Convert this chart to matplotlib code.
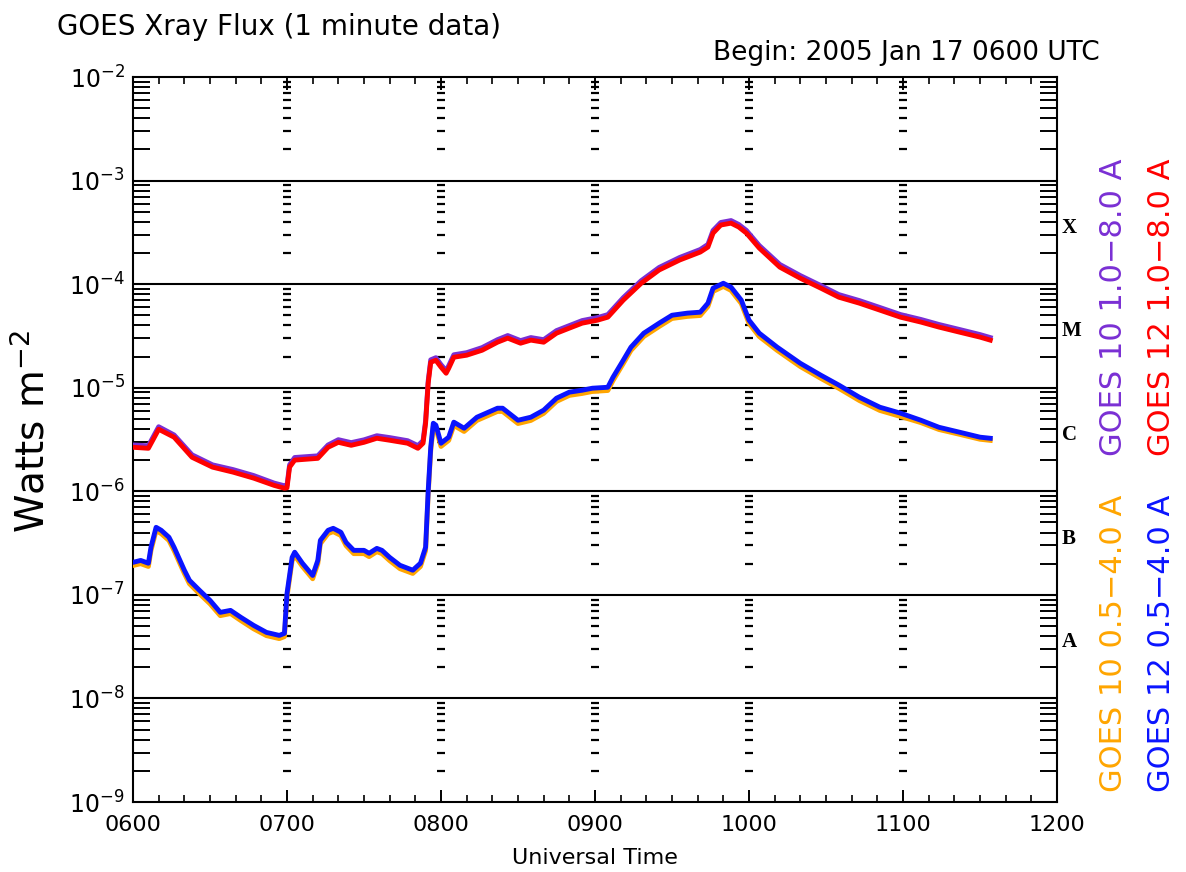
import numpy as np
import matplotlib
matplotlib.use("Agg")
import matplotlib.pyplot as plt
from matplotlib.ticker import FixedLocator, MultipleLocator, NullFormatter, LogFormatterMathtext

# minutes after 0600 UTC
t_long = [0, 6, 10, 16, 23, 31, 39, 47, 55, 59, 60, 61, 63, 72, 76, 80, 85, 90, 95, 100,
          107, 111, 113, 114, 115, 116, 118, 120, 122, 123, 125, 130, 136, 142, 146, 151,
          155, 160, 165, 170, 175, 181, 185, 191, 198, 205, 213, 221, 224, 226, 229, 233,
          236, 239, 244, 252, 260, 268, 275, 283, 291, 299, 307, 314, 322, 330, 334]
g12_long = [2.66e-6, 2.60e-6, 3.97e-6, 3.33e-6, 2.13e-6, 1.71e-6, 1.53e-6, 1.34e-6, 1.14e-6,
            1.07e-6, 1.08e-6, 1.71e-6, 2.00e-6, 2.08e-6, 2.66e-6, 2.97e-6, 2.78e-6, 2.97e-6,
            3.25e-6, 3.11e-6, 2.91e-6, 2.60e-6, 2.91e-6, 4.54e-6, 1.10e-5, 1.76e-5, 1.84e-5,
            1.58e-5, 1.38e-5, 1.54e-5, 1.97e-5, 2.06e-5, 2.30e-5, 2.75e-5, 3.01e-5, 2.69e-5,
            2.88e-5, 2.75e-5, 3.36e-5, 3.76e-5, 4.20e-5, 4.49e-5, 4.80e-5, 7.0e-5, 1.02e-4,
            1.37e-4, 1.71e-4, 2.04e-4, 2.28e-4, 3.11e-4, 3.72e-4, 3.88e-4, 3.56e-4, 3.11e-4,
            2.23e-4, 1.46e-4, 1.14e-4, 9.14e-5, 7.48e-5, 6.55e-5, 5.61e-5, 4.80e-5, 4.30e-5,
            3.85e-5, 3.44e-5, 3.08e-5, 2.88e-5]
g10_long = [2.80e-6, 2.75e-6, 4.2e-6, 3.5e-6, 2.25e-6, 1.80e-6, 1.62e-6, 1.42e-6, 1.20e-6,
            1.13e-6, 1.14e-6, 1.80e-6, 2.12e-6, 2.20e-6, 2.80e-6, 3.15e-6, 2.95e-6, 3.14e-6,
            3.44e-6, 3.30e-6, 3.08e-6, 2.76e-6, 3.08e-6, 4.8e-6, 1.16e-5, 1.86e-5, 1.95e-5,
            1.67e-5, 1.46e-5, 1.63e-5, 2.08e-5, 2.18e-5, 2.44e-5, 2.91e-5, 3.19e-5, 2.85e-5,
            3.05e-5, 2.91e-5, 3.56e-5, 3.98e-5, 4.45e-5, 4.76e-5, 5.08e-5, 7.4e-5, 1.08e-4,
            1.45e-4, 1.81e-4, 2.16e-4, 2.42e-4, 3.30e-4, 3.94e-4, 4.11e-4, 3.77e-4, 3.30e-4,
            2.36e-4, 1.55e-4, 1.21e-4, 9.69e-5, 7.93e-5, 6.94e-5, 5.95e-5, 5.09e-5, 4.56e-5,
            4.08e-5, 3.65e-5, 3.26e-5, 3.05e-5]

t_short = [0, 3, 6, 7, 9, 11, 14, 16, 20, 22, 26, 30, 34, 38, 42, 47, 52, 57, 59, 60, 62, 63,
           66, 70, 72, 73, 76, 78, 81, 83, 86, 90, 92, 95, 97, 100, 104, 109, 112, 114, 115,
           116, 117, 118, 120, 123, 125, 129, 134, 142, 144, 150, 155, 160, 165, 170, 175,
           179, 185, 187, 191, 194, 199, 205, 210, 216, 221, 224, 226, 230, 233, 237, 240,
           244, 251, 260, 268, 275, 283, 291, 299, 307, 314, 322, 330, 334]
g12_short = [2.06e-7, 2.15e-7, 2.02e-7, 2.88e-7, 4.49e-7, 4.20e-7, 3.60e-7, 2.88e-7, 1.73e-7,
             1.38e-7, 1.10e-7, 8.85e-8, 6.78e-8, 7.08e-8, 6.07e-8, 5.07e-8, 4.34e-8, 4.06e-8,
             4.25e-8, 1.03e-7, 2.30e-7, 2.58e-7, 2.02e-7, 1.54e-7, 2.15e-7, 3.36e-7, 4.20e-7,
             4.39e-7, 4.02e-7, 3.21e-7, 2.69e-7, 2.69e-7, 2.52e-7, 2.81e-7, 2.69e-7, 2.30e-7,
             1.93e-7, 1.73e-7, 2.02e-7, 2.88e-7, 1.0e-6, 2.66e-6, 4.54e-6, 4.35e-6, 2.91e-6,
             3.33e-6, 4.65e-6, 4.06e-6, 5.19e-6, 6.34e-6, 6.34e-6, 4.85e-6, 5.19e-6, 6.07e-6,
             7.92e-6, 9.06e-6, 9.46e-6, 9.89e-6, 1.01e-5, 1.26e-5, 1.84e-5, 2.46e-5, 3.36e-5,
             4.20e-5, 5.01e-5, 5.25e-5, 5.36e-5, 6.55e-5, 9.14e-5, 1.02e-4, 9.35e-5, 7.0e-5,
             4.49e-5, 3.36e-5, 2.46e-5, 1.72e-5, 1.32e-5, 1.06e-5, 8.09e-6, 6.48e-6, 5.68e-6,
             4.85e-6, 4.15e-6, 3.72e-6, 3.33e-6, 3.25e-6]
g10_short = [1.92e-7, 2.0e-7, 1.88e-7, 2.68e-7, 4.18e-7, 3.9e-7, 3.35e-7, 2.68e-7, 1.61e-7,
             1.28e-7, 1.02e-7, 8.2e-8, 6.3e-8, 6.6e-8, 5.65e-8, 4.7e-8, 4.04e-8, 3.78e-8,
             3.95e-8, 9.6e-8, 2.14e-7, 2.4e-7, 1.88e-7, 1.43e-7, 2.0e-7, 3.12e-7, 3.9e-7,
             4.08e-7, 3.74e-7, 2.99e-7, 2.5e-7, 2.5e-7, 2.34e-7, 2.61e-7, 2.5e-7, 2.14e-7,
             1.79e-7, 1.61e-7, 1.88e-7, 2.68e-7, 9.3e-7, 2.47e-6, 4.22e-6, 4.05e-6, 2.71e-6,
             3.1e-6, 4.32e-6, 3.78e-6, 4.83e-6, 5.9e-6, 5.9e-6, 4.51e-6, 4.83e-6, 5.65e-6,
             7.37e-6, 8.43e-6, 8.8e-6, 9.2e-6, 9.4e-6, 1.17e-5, 1.71e-5, 2.29e-5, 3.12e-5,
             3.9e-5, 4.66e-5, 4.88e-5, 4.98e-5, 6.09e-5, 8.5e-5, 9.5e-5, 8.7e-5, 6.5e-5,
             4.18e-5, 3.12e-5, 2.29e-5, 1.6e-5, 1.23e-5, 9.86e-6, 7.52e-6, 6.03e-6, 5.28e-6,
             4.6e-6, 3.95e-6, 3.55e-6, 3.18e-6, 3.1e-6]

hour_ticks = [0, 60, 120, 180, 240, 300, 360]
hour_labels = ["0600", "0700", "0800", "0900", "1000", "1100", "1200"]
class_letters = ["X", "M", "C", "B", "A"]
class_pos = [3.5e-4, 3.5e-5, 3.5e-6, 3.5e-7, 3.5e-8]
decade_lines = [1e-3, 1e-4, 1e-5, 1e-6, 1e-7, 1e-8]

purple = "#7a2fd4"
orange = "#ffa500"
red = "#ff0000"
blue = "#0a14ff"

W, H = 1186, 872
fig = plt.figure(figsize=(W / 100, H / 100), dpi=100)
ax = fig.add_axes([133 / W, 1 - 802 / H, (1057 - 133) / W, (802 - 77) / H])
ax.set_yscale("log")
ax.set_xlim(0, 360)
ax.set_ylim(1e-9, 1e-2)

for y in decade_lines:
    ax.axhline(y, color="black", lw=1.5, zorder=1)

# dash columns at each hour
minor_y = [k * 10.0 ** n for n in range(-9, -2) for k in range(2, 10)]
for h in hour_ticks[1:-1]:
    ax.plot([h] * len(minor_y), minor_y, ls="none", marker="_", ms=6, mew=1.6,
            color="black", zorder=1)

ax.plot(t_long, g10_long, color=purple, lw=3.5, zorder=3)
ax.plot(t_long, g12_long, color=red, lw=3.5, zorder=4)
ax.plot(t_short, g10_short, color=orange, lw=3.5, zorder=3)
ax.plot(t_short, g12_short, color=blue, lw=3.5, zorder=4)

ax.xaxis.set_major_locator(FixedLocator(hour_ticks))
ax.set_xticklabels(hour_labels)
ax.xaxis.set_minor_locator(MultipleLocator(10))
ax.yaxis.set_major_locator(FixedLocator([10.0 ** n for n in range(-9, -1)]))
ax.yaxis.set_major_formatter(LogFormatterMathtext())
ax.yaxis.set_minor_locator(FixedLocator(minor_y))
ax.yaxis.set_minor_formatter(NullFormatter())

ax.tick_params(axis="x", which="major", direction="in", top=True, length=9, width=1.4,
               labelsize=16, pad=9)
ax.tick_params(axis="x", which="minor", direction="in", top=True, length=5, width=1.2)
ax.tick_params(axis="y", which="both", direction="in", right=True, length=12, width=1.4,
               labelsize=17, pad=6)
for s in ax.spines.values():
    s.set_linewidth(1.5)

for letter, y in zip(class_letters, class_pos):
    ax.text(1.005, y, letter, transform=ax.get_yaxis_transform(), fontsize=15,
            fontweight="bold", family="Liberation Serif", va="center", ha="left")

fig.text(57 / W, 1 - 27 / H, "GOES Xray Flux (1 minute data)", fontsize=20,
         ha="left", va="center")
fig.text(1100 / W, 1 - 53 / H, "Begin: 2005 Jan 17 0600 UTC", fontsize=19,
         ha="right", va="center")
fig.text(595 / W, 1 - 858 / H, "Universal Time", fontsize=16, ha="center", va="center")
fig.text(33 / W, 1 - 431 / H, "Watts m$^{-2}$", fontsize=28, rotation=90,
         ha="center", va="center")

fig.text(1114 / W, 1 - 307 / H, "GOES 10 1.0\u22128.0 A", color=purple, fontsize=22,
         rotation=90, ha="center", va="center")
fig.text(1161 / W, 1 - 307 / H, "GOES 12 1.0\u22128.0 A", color=red, fontsize=22,
         rotation=90, ha="center", va="center")
fig.text(1114 / W, 1 - 643 / H, "GOES 10 0.5\u22124.0 A", color=orange, fontsize=22,
         rotation=90, ha="center", va="center")
fig.text(1161 / W, 1 - 643 / H, "GOES 12 0.5\u22124.0 A", color=blue, fontsize=22,
         rotation=90, ha="center", va="center")

fig.savefig("out.png", dpi=100)
